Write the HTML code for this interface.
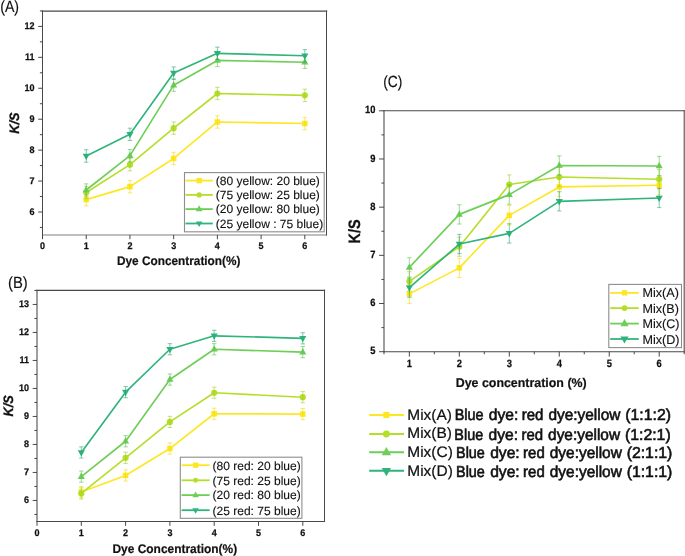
<!DOCTYPE html>
<html lang="en">
<head>
<meta charset="utf-8">
<title>K/S versus dye concentration</title>
<style>
html,body{margin:0;padding:0;background:#fff;}
body{width:685px;height:556px;overflow:hidden;}
svg{display:block;will-change:transform;}
svg text{text-rendering:geometricPrecision;}
</style>
</head>
<body>
<svg width="685" height="556" viewBox="0 0 685 556" font-family='"Liberation Sans", Arial, sans-serif'>
<rect width="685" height="556" fill="#fff"/>
<path d="M42.5 234.9H326.5" stroke="#808080" stroke-width="1.05" fill="none" stroke-linecap="square"/>
<path d="M42.5 11.1H326.5" stroke="#484848" stroke-width="1.45" fill="none" stroke-linecap="square"/>
<path d="M42.5 11.1V234.9" stroke="#484848" stroke-width="1.05" fill="none" stroke-linecap="square"/>
<path d="M326.5 11.1V234.9" stroke="#484848" stroke-width="1.05" fill="none" stroke-linecap="square"/>
<path d="M42.5 211.98h-4.3M42.5 181.05h-4.3M42.5 150.12h-4.3M42.5 119.19h-4.3M42.5 88.26h-4.3M42.5 57.33h-4.3M42.5 26.4h-4.3M42.5 227.44h-2.6M42.5 196.52h-2.6M42.5 165.59h-2.6M42.5 134.66h-2.6M42.5 103.72h-2.6M42.5 72.79h-2.6M42.5 41.86h-2.6M42.5 10.93h-2.6M42.5 234.9v4.3M86.22 234.9v4.3M129.94 234.9v4.3M173.66 234.9v4.3M217.38 234.9v4.3M261.1 234.9v4.3M304.82 234.9v4.3" stroke="#484848" stroke-width="1" fill="none"/>
<text transform="translate(34.6 214.74) scale(0.94 1)" font-size="9.6" fill="#111" text-anchor="end" font-weight="bold" stroke="#111" stroke-width="0.25">6</text>
<text transform="translate(34.6 183.81) scale(0.94 1)" font-size="9.6" fill="#111" text-anchor="end" font-weight="bold" stroke="#111" stroke-width="0.25">7</text>
<text transform="translate(34.6 152.88) scale(0.94 1)" font-size="9.6" fill="#111" text-anchor="end" font-weight="bold" stroke="#111" stroke-width="0.25">8</text>
<text transform="translate(34.6 121.95) scale(0.94 1)" font-size="9.6" fill="#111" text-anchor="end" font-weight="bold" stroke="#111" stroke-width="0.25">9</text>
<text transform="translate(34.6 91.02) scale(0.94 1)" font-size="9.6" fill="#111" text-anchor="end" font-weight="bold" stroke="#111" stroke-width="0.25">10</text>
<text transform="translate(34.6 60.09) scale(0.94 1)" font-size="9.6" fill="#111" text-anchor="end" font-weight="bold" stroke="#111" stroke-width="0.25">11</text>
<text transform="translate(34.6 29.16) scale(0.94 1)" font-size="9.6" fill="#111" text-anchor="end" font-weight="bold" stroke="#111" stroke-width="0.25">12</text>
<text transform="translate(42.5 249.46) scale(0.94 1)" font-size="9.6" fill="#111" text-anchor="middle" font-weight="bold" stroke="#111" stroke-width="0.25">0</text>
<text transform="translate(86.22 249.46) scale(0.94 1)" font-size="9.6" fill="#111" text-anchor="middle" font-weight="bold" stroke="#111" stroke-width="0.25">1</text>
<text transform="translate(129.94 249.46) scale(0.94 1)" font-size="9.6" fill="#111" text-anchor="middle" font-weight="bold" stroke="#111" stroke-width="0.25">2</text>
<text transform="translate(173.66 249.46) scale(0.94 1)" font-size="9.6" fill="#111" text-anchor="middle" font-weight="bold" stroke="#111" stroke-width="0.25">3</text>
<text transform="translate(217.38 249.46) scale(0.94 1)" font-size="9.6" fill="#111" text-anchor="middle" font-weight="bold" stroke="#111" stroke-width="0.25">4</text>
<text transform="translate(261.1 249.46) scale(0.94 1)" font-size="9.6" fill="#111" text-anchor="middle" font-weight="bold" stroke="#111" stroke-width="0.25">5</text>
<text transform="translate(304.82 249.46) scale(0.94 1)" font-size="9.6" fill="#111" text-anchor="middle" font-weight="bold" stroke="#111" stroke-width="0.25">6</text>
<text transform="translate(178.7 265.1) scale(0.945 1)" font-size="12.5" fill="#111" text-anchor="middle" font-weight="bold" stroke="#111" stroke-width="0.2">Dye Concentration(%)</text>
<text transform="translate(19.3 123.1) rotate(-90) scale(0.94 1)" font-size="13.6" fill="#111" text-anchor="middle" font-weight="bold" font-style="italic" stroke="#111" stroke-width="0.3">K/S</text>
<text transform="translate(0.2 12.3) scale(0.87 1)" font-size="16.3" fill="#111" stroke="#111" stroke-width="0.15">(A)</text>
<polyline points="86.22,199.61 129.94,186.62 173.66,158.47 217.38,121.97 304.82,123.52" fill="none" stroke="#FDE725" stroke-width="1.65" stroke-linejoin="round"/>
<rect x="83.47" y="196.86" width="5.5" height="5.5" fill="#FDE725"/>
<rect x="127.19" y="183.87" width="5.5" height="5.5" fill="#FDE725"/>
<rect x="170.91" y="155.72" width="5.5" height="5.5" fill="#FDE725"/>
<rect x="214.63" y="119.22" width="5.5" height="5.5" fill="#FDE725"/>
<rect x="302.07" y="120.77" width="5.5" height="5.5" fill="#FDE725"/>
<path d="M86.22 193.42V205.79M84.02 193.42h4.4M84.02 205.79h4.4M129.94 180.43V192.8M127.74 180.43h4.4M127.74 192.8h4.4M173.66 152.29V164.66M171.46 152.29h4.4M171.46 164.66h4.4M217.38 115.79V128.16M215.18 115.79h4.4M215.18 128.16h4.4M304.82 117.33V129.71M302.62 117.33h4.4M302.62 129.71h4.4" stroke="#F5D800" stroke-width="0.8" stroke-opacity="0.72" fill="none"/>
<polyline points="86.22,192.49 129.94,164.66 173.66,128.16 217.38,93.52 304.82,95.37" fill="none" stroke="#B5DE2B" stroke-width="1.65" stroke-linejoin="round"/>
<circle cx="86.22" cy="192.49" r="3.1" fill="#B5DE2B"/>
<circle cx="129.94" cy="164.66" r="3.1" fill="#B5DE2B"/>
<circle cx="173.66" cy="128.16" r="3.1" fill="#B5DE2B"/>
<circle cx="217.38" cy="93.52" r="3.1" fill="#B5DE2B"/>
<circle cx="304.82" cy="95.37" r="3.1" fill="#B5DE2B"/>
<path d="M86.22 186.31V198.68M84.02 186.31h4.4M84.02 198.68h4.4M129.94 158.47V170.84M127.74 158.47h4.4M127.74 170.84h4.4M173.66 121.97V134.35M171.46 121.97h4.4M171.46 134.35h4.4M217.38 87.33V99.7M215.18 87.33h4.4M215.18 99.7h4.4M304.82 89.19V101.56M302.62 89.19h4.4M302.62 101.56h4.4" stroke="#9FCC1E" stroke-width="0.8" stroke-opacity="0.72" fill="none"/>
<polyline points="86.22,190.02 129.94,155.69 173.66,85.17 217.38,60.42 304.82,62.28" fill="none" stroke="#6ECE58" stroke-width="1.65" stroke-linejoin="round"/>
<polygon points="82.62,192.32 89.82,192.32 86.22,186.02" fill="#6ECE58"/>
<polygon points="126.34,157.99 133.54,157.99 129.94,151.69" fill="#6ECE58"/>
<polygon points="170.06,87.47 177.26,87.47 173.66,81.17" fill="#6ECE58"/>
<polygon points="213.78,62.72 220.98,62.72 217.38,56.42" fill="#6ECE58"/>
<polygon points="301.22,64.58 308.42,64.58 304.82,58.28" fill="#6ECE58"/>
<path d="M86.22 183.83V196.21M84.02 183.83h4.4M84.02 196.21h4.4M129.94 149.5V161.87M127.74 149.5h4.4M127.74 161.87h4.4M173.66 78.98V91.35M171.46 78.98h4.4M171.46 91.35h4.4M217.38 54.24V66.61M215.18 54.24h4.4M215.18 66.61h4.4M304.82 56.09V68.46M302.62 56.09h4.4M302.62 68.46h4.4" stroke="#55BF45" stroke-width="0.8" stroke-opacity="0.72" fill="none"/>
<polyline points="86.22,156 129.94,134.35 173.66,73.1 217.38,53.31 304.82,55.78" fill="none" stroke="#2FB47C" stroke-width="1.65" stroke-linejoin="round"/>
<polygon points="82.62,153.7 89.82,153.7 86.22,160" fill="#2FB47C"/>
<polygon points="126.34,132.05 133.54,132.05 129.94,138.35" fill="#2FB47C"/>
<polygon points="170.06,70.8 177.26,70.8 173.66,77.1" fill="#2FB47C"/>
<polygon points="213.78,51.01 220.98,51.01 217.38,57.31" fill="#2FB47C"/>
<polygon points="301.22,53.48 308.42,53.48 304.82,59.78" fill="#2FB47C"/>
<path d="M86.22 149.81V162.18M84.02 149.81h4.4M84.02 162.18h4.4M129.94 128.16V140.53M127.74 128.16h4.4M127.74 140.53h4.4M173.66 66.92V79.29M171.46 66.92h4.4M171.46 79.29h4.4M217.38 47.12V59.5M215.18 47.12h4.4M215.18 59.5h4.4M304.82 49.6V61.97M302.62 49.6h4.4M302.62 61.97h4.4" stroke="#22A56E" stroke-width="0.8" stroke-opacity="0.72" fill="none"/>
<rect x="184.5" y="172.6" width="139.7" height="59.2" fill="#fff" stroke="#8e8e8e" stroke-width="1.1"/>
<path d="M185.5 180.6H212.8" stroke="#FDE725" stroke-width="1.8"/>
<rect x="196.46" y="177.91" width="5.39" height="5.39" fill="#FDE725"/>
<text transform="translate(215.8 184.92)" font-size="12" fill="#111" stroke="#111" stroke-width="0.12">(80 yellow: 20 blue)</text>
<path d="M185.5 194.9H212.8" stroke="#B5DE2B" stroke-width="1.8"/>
<circle cx="199.15" cy="194.9" r="2.63" fill="#B5DE2B"/>
<text transform="translate(215.8 199.22)" font-size="12" fill="#111" stroke="#111" stroke-width="0.12">(75 yellow: 25 blue)</text>
<path d="M185.5 209.1H212.8" stroke="#6ECE58" stroke-width="1.8"/>
<polygon points="195.69,211.31 202.61,211.31 199.15,205.26" fill="#6ECE58"/>
<text transform="translate(215.8 213.42)" font-size="12" fill="#111" stroke="#111" stroke-width="0.12">(20 yellow: 80 blue)</text>
<path d="M185.5 223.5H212.8" stroke="#2FB47C" stroke-width="1.8"/>
<polygon points="195.91,221.43 202.39,221.43 199.15,227.1" fill="#2FB47C"/>
<text transform="translate(215.8 227.82)" font-size="12" fill="#111" stroke="#111" stroke-width="0.12">(25 yellow : 75 blue)</text>
<path d="M37 521.5H324.5" stroke="#484848" stroke-width="1.05" fill="none" stroke-linecap="square"/>
<path d="M37 290.3H324.5" stroke="#484848" stroke-width="1.35" fill="none" stroke-linecap="square"/>
<path d="M37 290.3V521.5" stroke="#484848" stroke-width="1.05" fill="none" stroke-linecap="square"/>
<path d="M324.5 290.3V521.5" stroke="#484848" stroke-width="1.05" fill="none" stroke-linecap="square"/>
<path d="M37 500.45h-4.3M37 472.45h-4.3M37 444.45h-4.3M37 416.45h-4.3M37 388.45h-4.3M37 360.45h-4.3M37 332.45h-4.3M37 304.45h-4.3M37 514.45h-2.6M37 486.45h-2.6M37 458.45h-2.6M37 430.45h-2.6M37 402.45h-2.6M37 374.45h-2.6M37 346.45h-2.6M37 318.45h-2.6M37 290.45h-2.6M37 521.5v4.3M81.3 521.5v4.3M125.6 521.5v4.3M169.9 521.5v4.3M214.2 521.5v4.3M258.5 521.5v4.3M302.8 521.5v4.3" stroke="#484848" stroke-width="1" fill="none"/>
<text transform="translate(29.1 503.21) scale(0.94 1)" font-size="9.6" fill="#111" text-anchor="end" font-weight="bold" stroke="#111" stroke-width="0.25">6</text>
<text transform="translate(29.1 475.21) scale(0.94 1)" font-size="9.6" fill="#111" text-anchor="end" font-weight="bold" stroke="#111" stroke-width="0.25">7</text>
<text transform="translate(29.1 447.21) scale(0.94 1)" font-size="9.6" fill="#111" text-anchor="end" font-weight="bold" stroke="#111" stroke-width="0.25">8</text>
<text transform="translate(29.1 419.21) scale(0.94 1)" font-size="9.6" fill="#111" text-anchor="end" font-weight="bold" stroke="#111" stroke-width="0.25">9</text>
<text transform="translate(29.1 391.21) scale(0.94 1)" font-size="9.6" fill="#111" text-anchor="end" font-weight="bold" stroke="#111" stroke-width="0.25">10</text>
<text transform="translate(29.1 363.21) scale(0.94 1)" font-size="9.6" fill="#111" text-anchor="end" font-weight="bold" stroke="#111" stroke-width="0.25">11</text>
<text transform="translate(29.1 335.21) scale(0.94 1)" font-size="9.6" fill="#111" text-anchor="end" font-weight="bold" stroke="#111" stroke-width="0.25">12</text>
<text transform="translate(29.1 307.21) scale(0.94 1)" font-size="9.6" fill="#111" text-anchor="end" font-weight="bold" stroke="#111" stroke-width="0.25">13</text>
<text transform="translate(37 536.16) scale(0.94 1)" font-size="9.6" fill="#111" text-anchor="middle" font-weight="bold" stroke="#111" stroke-width="0.25">0</text>
<text transform="translate(81.3 536.16) scale(0.94 1)" font-size="9.6" fill="#111" text-anchor="middle" font-weight="bold" stroke="#111" stroke-width="0.25">1</text>
<text transform="translate(125.6 536.16) scale(0.94 1)" font-size="9.6" fill="#111" text-anchor="middle" font-weight="bold" stroke="#111" stroke-width="0.25">2</text>
<text transform="translate(169.9 536.16) scale(0.94 1)" font-size="9.6" fill="#111" text-anchor="middle" font-weight="bold" stroke="#111" stroke-width="0.25">3</text>
<text transform="translate(214.2 536.16) scale(0.94 1)" font-size="9.6" fill="#111" text-anchor="middle" font-weight="bold" stroke="#111" stroke-width="0.25">4</text>
<text transform="translate(258.5 536.16) scale(0.94 1)" font-size="9.6" fill="#111" text-anchor="middle" font-weight="bold" stroke="#111" stroke-width="0.25">5</text>
<text transform="translate(302.8 536.16) scale(0.94 1)" font-size="9.6" fill="#111" text-anchor="middle" font-weight="bold" stroke="#111" stroke-width="0.25">6</text>
<text transform="translate(174.8 553) scale(0.955 1)" font-size="12.5" fill="#111" text-anchor="middle" font-weight="bold" stroke="#111" stroke-width="0.2">Dye Concentration(%)</text>
<text transform="translate(12.6 405.9) rotate(-90) scale(0.94 1)" font-size="13.6" fill="#111" text-anchor="middle" font-weight="bold" font-style="italic" stroke="#111" stroke-width="0.3">K/S</text>
<text transform="translate(8 288.2) scale(0.91 1)" font-size="16.3" fill="#111" stroke="#111" stroke-width="0.15">(B)</text>
<polyline points="81.3,492.02 125.6,475.47 169.9,448.57 214.2,413.76 302.8,414.07" fill="none" stroke="#FDE725" stroke-width="1.65" stroke-linejoin="round"/>
<rect x="78.55" y="489.27" width="5.5" height="5.5" fill="#FDE725"/>
<rect x="122.85" y="472.72" width="5.5" height="5.5" fill="#FDE725"/>
<rect x="167.15" y="445.82" width="5.5" height="5.5" fill="#FDE725"/>
<rect x="211.45" y="411.01" width="5.5" height="5.5" fill="#FDE725"/>
<rect x="300.05" y="411.32" width="5.5" height="5.5" fill="#FDE725"/>
<path d="M81.3 486.42V497.62M79.1 486.42h4.4M79.1 497.62h4.4M125.6 469.87V481.07M123.4 469.87h4.4M123.4 481.07h4.4M169.9 442.97V454.17M167.7 442.97h4.4M167.7 454.17h4.4M214.2 408.16V419.36M212 408.16h4.4M212 419.36h4.4M302.8 408.47V419.67M300.6 408.47h4.4M300.6 419.67h4.4" stroke="#F5D800" stroke-width="0.8" stroke-opacity="0.72" fill="none"/>
<polyline points="81.3,493.45 125.6,457.81 169.9,421.91 214.2,392.73 302.8,397.21" fill="none" stroke="#B5DE2B" stroke-width="1.65" stroke-linejoin="round"/>
<circle cx="81.3" cy="493.45" r="3.1" fill="#B5DE2B"/>
<circle cx="125.6" cy="457.81" r="3.1" fill="#B5DE2B"/>
<circle cx="169.9" cy="421.91" r="3.1" fill="#B5DE2B"/>
<circle cx="214.2" cy="392.73" r="3.1" fill="#B5DE2B"/>
<circle cx="302.8" cy="397.21" r="3.1" fill="#B5DE2B"/>
<path d="M81.3 487.85V499.05M79.1 487.85h4.4M79.1 499.05h4.4M125.6 452.21V463.41M123.4 452.21h4.4M123.4 463.41h4.4M169.9 416.31V427.51M167.7 416.31h4.4M167.7 427.51h4.4M214.2 387.13V398.33M212 387.13h4.4M212 398.33h4.4M302.8 391.61V402.81M300.6 391.61h4.4M300.6 402.81h4.4" stroke="#9FCC1E" stroke-width="0.8" stroke-opacity="0.72" fill="none"/>
<polyline points="81.3,476.59 125.6,441.26 169.9,379.55 214.2,349.25 302.8,352.08" fill="none" stroke="#6ECE58" stroke-width="1.65" stroke-linejoin="round"/>
<polygon points="77.7,478.89 84.9,478.89 81.3,472.59" fill="#6ECE58"/>
<polygon points="122,443.56 129.2,443.56 125.6,437.26" fill="#6ECE58"/>
<polygon points="166.3,381.85 173.5,381.85 169.9,375.55" fill="#6ECE58"/>
<polygon points="210.6,351.55 217.8,351.55 214.2,345.25" fill="#6ECE58"/>
<polygon points="299.2,354.38 306.4,354.38 302.8,348.08" fill="#6ECE58"/>
<path d="M81.3 470.99V482.19M79.1 470.99h4.4M79.1 482.19h4.4M125.6 435.66V446.86M123.4 435.66h4.4M123.4 446.86h4.4M169.9 373.95V385.15M167.7 373.95h4.4M167.7 385.15h4.4M214.2 343.65V354.85M212 343.65h4.4M212 354.85h4.4M302.8 346.48V357.68M300.6 346.48h4.4M300.6 357.68h4.4" stroke="#55BF45" stroke-width="0.8" stroke-opacity="0.72" fill="none"/>
<polyline points="81.3,452.49 125.6,392.17 169.9,349.25 214.2,335.81 302.8,338.33" fill="none" stroke="#2FB47C" stroke-width="1.65" stroke-linejoin="round"/>
<polygon points="77.7,450.19 84.9,450.19 81.3,456.49" fill="#2FB47C"/>
<polygon points="122,389.87 129.2,389.87 125.6,396.17" fill="#2FB47C"/>
<polygon points="166.3,346.95 173.5,346.95 169.9,353.25" fill="#2FB47C"/>
<polygon points="210.6,333.51 217.8,333.51 214.2,339.81" fill="#2FB47C"/>
<polygon points="299.2,336.03 306.4,336.03 302.8,342.33" fill="#2FB47C"/>
<path d="M81.3 446.89V458.09M79.1 446.89h4.4M79.1 458.09h4.4M125.6 386.57V397.77M123.4 386.57h4.4M123.4 397.77h4.4M169.9 343.65V354.85M167.7 343.65h4.4M167.7 354.85h4.4M214.2 330.21V341.41M212 330.21h4.4M212 341.41h4.4M302.8 332.73V343.93M300.6 332.73h4.4M300.6 343.93h4.4" stroke="#22A56E" stroke-width="0.8" stroke-opacity="0.72" fill="none"/>
<rect x="180.3" y="457.2" width="121.6" height="61.1" fill="#fff" stroke="#8e8e8e" stroke-width="1.1"/>
<path d="M181.6 465.2H209.6" stroke="#FDE725" stroke-width="1.8"/>
<rect x="192.96" y="462.56" width="5.28" height="5.28" fill="#FDE725"/>
<text transform="translate(212.6 469.52)" font-size="12" fill="#111" stroke="#111" stroke-width="0.12">(80 red: 20 blue)</text>
<path d="M181.6 480.3H209.6" stroke="#B5DE2B" stroke-width="1.8"/>
<circle cx="195.6" cy="480.3" r="2.48" fill="#B5DE2B"/>
<text transform="translate(212.6 484.62)" font-size="12" fill="#111" stroke="#111" stroke-width="0.12">(75 red: 25 blue)</text>
<path d="M181.6 495.1H209.6" stroke="#6ECE58" stroke-width="1.8"/>
<polygon points="192.36,497.17 198.84,497.17 195.6,491.5" fill="#6ECE58"/>
<text transform="translate(212.6 499.42)" font-size="12" fill="#111" stroke="#111" stroke-width="0.12">(20 red: 80 blue)</text>
<path d="M181.6 510.2H209.6" stroke="#2FB47C" stroke-width="1.8"/>
<polygon points="192.36,508.13 198.84,508.13 195.6,513.8" fill="#2FB47C"/>
<text transform="translate(212.6 514.52)" font-size="12" fill="#111" stroke="#111" stroke-width="0.12">(25 red: 75 blue)</text>
<path d="M384 351.7H684.2" stroke="#484848" stroke-width="1.05" fill="none" stroke-linecap="square"/>
<path d="M384 110.8H684.2" stroke="#484848" stroke-width="1.05" fill="none" stroke-linecap="square"/>
<path d="M384 110.8V351.7" stroke="#484848" stroke-width="1.05" fill="none" stroke-linecap="square"/>
<path d="M684.2 110.8V351.7" stroke="#484848" stroke-width="1.05" fill="none" stroke-linecap="square"/>
<path d="M384 351.7h-4.9M384 303.52h-4.9M384 255.34h-4.9M384 207.16h-4.9M384 158.98h-4.9M384 110.8h-4.9M384 327.61h-2.6M384 279.43h-2.6M384 231.25h-2.6M384 183.07h-2.6M384 134.89h-2.6M409.35 351.7v4.9M459.32 351.7v4.9M509.29 351.7v4.9M559.26 351.7v4.9M609.23 351.7v4.9M659.2 351.7v4.9M384 351.7v2.6M434.34 351.7v2.6M484.31 351.7v2.6M534.27 351.7v2.6M584.25 351.7v2.6M634.22 351.7v2.6M684.2 351.7v2.6" stroke="#484848" stroke-width="1" fill="none"/>
<text transform="translate(375.5 354.38) scale(0.89 1)" font-size="10.5" fill="#111" text-anchor="end" font-weight="bold" stroke="#111" stroke-width="0.25">5</text>
<text transform="translate(375.5 306.2) scale(0.89 1)" font-size="10.5" fill="#111" text-anchor="end" font-weight="bold" stroke="#111" stroke-width="0.25">6</text>
<text transform="translate(375.5 258.02) scale(0.89 1)" font-size="10.5" fill="#111" text-anchor="end" font-weight="bold" stroke="#111" stroke-width="0.25">7</text>
<text transform="translate(375.5 209.84) scale(0.89 1)" font-size="10.5" fill="#111" text-anchor="end" font-weight="bold" stroke="#111" stroke-width="0.25">8</text>
<text transform="translate(375.5 161.66) scale(0.89 1)" font-size="10.5" fill="#111" text-anchor="end" font-weight="bold" stroke="#111" stroke-width="0.25">9</text>
<text transform="translate(375.5 113.48) scale(0.89 1)" font-size="10.5" fill="#111" text-anchor="end" font-weight="bold" stroke="#111" stroke-width="0.25">10</text>
<text transform="translate(409.35 367.38) scale(0.89 1)" font-size="10.5" fill="#111" text-anchor="middle" font-weight="bold" stroke="#111" stroke-width="0.25">1</text>
<text transform="translate(459.32 367.38) scale(0.89 1)" font-size="10.5" fill="#111" text-anchor="middle" font-weight="bold" stroke="#111" stroke-width="0.25">2</text>
<text transform="translate(509.29 367.38) scale(0.89 1)" font-size="10.5" fill="#111" text-anchor="middle" font-weight="bold" stroke="#111" stroke-width="0.25">3</text>
<text transform="translate(559.26 367.38) scale(0.89 1)" font-size="10.5" fill="#111" text-anchor="middle" font-weight="bold" stroke="#111" stroke-width="0.25">4</text>
<text transform="translate(609.23 367.38) scale(0.89 1)" font-size="10.5" fill="#111" text-anchor="middle" font-weight="bold" stroke="#111" stroke-width="0.25">5</text>
<text transform="translate(659.2 367.38) scale(0.89 1)" font-size="10.5" fill="#111" text-anchor="middle" font-weight="bold" stroke="#111" stroke-width="0.25">6</text>
<text transform="translate(521.2 386.6) scale(0.985 1)" font-size="12.6" fill="#111" text-anchor="middle" font-weight="bold" stroke="#111" stroke-width="0.2">Dye concentration (%)</text>
<text transform="translate(359.6 231.5) rotate(-90) scale(0.885 1)" font-size="16.4" fill="#111" text-anchor="middle" font-weight="bold" stroke="#111" stroke-width="0.3">K/S</text>
<text transform="translate(383.2 86.5) scale(0.85 1)" font-size="16.3" fill="#111" stroke="#111" stroke-width="0.15">(C)</text>
<polyline points="409.35,293.88 459.32,267.87 509.29,215.35 559.26,186.92 659.2,185.24" fill="none" stroke="#FDE725" stroke-width="1.65" stroke-linejoin="round"/>
<rect x="406.6" y="291.13" width="5.5" height="5.5" fill="#FDE725"/>
<rect x="456.57" y="265.12" width="5.5" height="5.5" fill="#FDE725"/>
<rect x="506.54" y="212.6" width="5.5" height="5.5" fill="#FDE725"/>
<rect x="556.51" y="184.17" width="5.5" height="5.5" fill="#FDE725"/>
<rect x="656.45" y="182.49" width="5.5" height="5.5" fill="#FDE725"/>
<path d="M409.35 284.25V303.52M407.15 284.25h4.4M407.15 303.52h4.4M459.32 258.23V277.5M457.12 258.23h4.4M457.12 277.5h4.4M509.29 205.71V224.99M507.09 205.71h4.4M507.09 224.99h4.4M559.26 177.29V196.56M557.06 177.29h4.4M557.06 196.56h4.4M659.2 175.6V194.87M657 175.6h4.4M657 194.87h4.4" stroke="#F5D800" stroke-width="0.8" stroke-opacity="0.72" fill="none"/>
<polyline points="409.35,281.36 459.32,246.67 509.29,184.52 559.26,177.05 659.2,179.22" fill="none" stroke="#B5DE2B" stroke-width="1.65" stroke-linejoin="round"/>
<circle cx="409.35" cy="281.36" r="3.1" fill="#B5DE2B"/>
<circle cx="459.32" cy="246.67" r="3.1" fill="#B5DE2B"/>
<circle cx="509.29" cy="184.52" r="3.1" fill="#B5DE2B"/>
<circle cx="559.26" cy="177.05" r="3.1" fill="#B5DE2B"/>
<circle cx="659.2" cy="179.22" r="3.1" fill="#B5DE2B"/>
<path d="M409.35 271.72V290.99M407.15 271.72h4.4M407.15 290.99h4.4M459.32 237.03V256.3M457.12 237.03h4.4M457.12 256.3h4.4M509.29 174.88V194.15M507.09 174.88h4.4M507.09 194.15h4.4M559.26 167.41V186.68M557.06 167.41h4.4M557.06 186.68h4.4M659.2 169.58V188.85M657 169.58h4.4M657 188.85h4.4" stroke="#9FCC1E" stroke-width="0.8" stroke-opacity="0.72" fill="none"/>
<polyline points="409.35,267.38 459.32,214.39 509.29,194.63 559.26,165.48 659.2,165.97" fill="none" stroke="#6ECE58" stroke-width="1.65" stroke-linejoin="round"/>
<polygon points="405.75,269.69 412.95,269.69 409.35,263.38" fill="#6ECE58"/>
<polygon points="455.72,216.69 462.92,216.69 459.32,210.39" fill="#6ECE58"/>
<polygon points="505.69,196.93 512.89,196.93 509.29,190.63" fill="#6ECE58"/>
<polygon points="555.66,167.78 562.86,167.78 559.26,161.48" fill="#6ECE58"/>
<polygon points="655.6,168.27 662.8,168.27 659.2,161.97" fill="#6ECE58"/>
<path d="M409.35 257.75V277.02M407.15 257.75h4.4M407.15 277.02h4.4M459.32 204.75V224.02M457.12 204.75h4.4M457.12 224.02h4.4M509.29 185V204.27M507.09 185h4.4M507.09 204.27h4.4M559.26 155.85V175.12M557.06 155.85h4.4M557.06 175.12h4.4M659.2 156.33V175.6M657 156.33h4.4M657 175.6h4.4" stroke="#55BF45" stroke-width="0.8" stroke-opacity="0.72" fill="none"/>
<polyline points="409.35,287.62 459.32,244.02 509.29,233.42 559.26,201.38 659.2,198.01" fill="none" stroke="#2FB47C" stroke-width="1.65" stroke-linejoin="round"/>
<polygon points="405.75,285.32 412.95,285.32 409.35,291.62" fill="#2FB47C"/>
<polygon points="455.72,241.72 462.92,241.72 459.32,248.02" fill="#2FB47C"/>
<polygon points="505.69,231.12 512.89,231.12 509.29,237.42" fill="#2FB47C"/>
<polygon points="555.66,199.08 562.86,199.08 559.26,205.38" fill="#2FB47C"/>
<polygon points="655.6,195.71 662.8,195.71 659.2,202.01" fill="#2FB47C"/>
<path d="M409.35 277.98V297.26M407.15 277.98h4.4M407.15 297.26h4.4M459.32 234.38V253.65M457.12 234.38h4.4M457.12 253.65h4.4M509.29 223.78V243.05M507.09 223.78h4.4M507.09 243.05h4.4M559.26 191.74V211.01M557.06 191.74h4.4M557.06 211.01h4.4M659.2 188.37V207.64M657 188.37h4.4M657 207.64h4.4" stroke="#22A56E" stroke-width="0.8" stroke-opacity="0.72" fill="none"/>
<rect x="608.8" y="284.4" width="72.7" height="63.2" fill="#fff" stroke="#8e8e8e" stroke-width="1.1"/>
<path d="M610.2 292.9H638.8" stroke="#FDE725" stroke-width="1.8"/>
<rect x="621.8" y="290.2" width="5.39" height="5.39" fill="#FDE725"/>
<text transform="translate(642.5 297.44)" font-size="12.6" fill="#111" stroke="#111" stroke-width="0.12">Mix(A)</text>
<path d="M610.2 308.1H638.8" stroke="#B5DE2B" stroke-width="1.8"/>
<circle cx="624.5" cy="308.1" r="2.94" fill="#B5DE2B"/>
<text transform="translate(642.5 312.64)" font-size="12.6" fill="#111" stroke="#111" stroke-width="0.12">Mix(B)</text>
<path d="M610.2 323.6H638.8" stroke="#6ECE58" stroke-width="1.8"/>
<polygon points="620.4,326.22 628.6,326.22 624.5,319.04" fill="#6ECE58"/>
<text transform="translate(642.5 328.14)" font-size="12.6" fill="#111" stroke="#111" stroke-width="0.12">Mix(C)</text>
<path d="M610.2 339H638.8" stroke="#2FB47C" stroke-width="1.8"/>
<polygon points="620.4,336.38 628.6,336.38 624.5,343.56" fill="#2FB47C"/>
<text transform="translate(642.5 343.54)" font-size="12.6" fill="#111" stroke="#111" stroke-width="0.12">Mix(D)</text>
<path d="M369.2 415H404" stroke="#FDE725" stroke-width="1.95"/>
<rect x="383.32" y="411.92" width="6.16" height="6.16" fill="#FDE725"/>
<text transform="translate(407.26 419.6) scale(1.019 1)" font-size="15.2" fill="#111" stroke="#111" stroke-width="0.2">Mix(A)</text>
<text transform="translate(454.65 420.4) scale(0.912 1)" font-size="15.8" fill="#111" stroke="#111" stroke-width="0.6">Blue</text>
<text transform="translate(488.77 420.4) scale(0.989 1)" font-size="15.8" fill="#111" stroke="#111" stroke-width="0.6">dye:</text>
<text transform="translate(521.73 420.4) scale(0.949 1)" font-size="15.8" fill="#111" stroke="#111" stroke-width="0.6">red</text>
<text transform="translate(548.38 420.4) scale(0.976 1)" font-size="15.8" fill="#111" stroke="#111" stroke-width="0.6">dye:yellow</text>
<text transform="translate(625.25 420.4) scale(1.001 1)" font-size="15.8" fill="#111" stroke="#111" stroke-width="0.6">(1:1:2)</text>
<path d="M369.2 434H404" stroke="#B5DE2B" stroke-width="1.95"/>
<circle cx="386.4" cy="434" r="3.47" fill="#B5DE2B"/>
<text transform="translate(407.26 438.2) scale(1.019 1)" font-size="15.2" fill="#111" stroke="#111" stroke-width="0.2">Mix(B)</text>
<text transform="translate(454.35 440.4) scale(0.912 1)" font-size="15.8" fill="#111" stroke="#111" stroke-width="0.6">Blue</text>
<text transform="translate(488.47 440.4) scale(0.989 1)" font-size="15.8" fill="#111" stroke="#111" stroke-width="0.6">dye:</text>
<text transform="translate(521.43 440.4) scale(0.949 1)" font-size="15.8" fill="#111" stroke="#111" stroke-width="0.6">red</text>
<text transform="translate(548.08 440.4) scale(0.976 1)" font-size="15.8" fill="#111" stroke="#111" stroke-width="0.6">dye:yellow</text>
<text transform="translate(624.95 440.4) scale(1.001 1)" font-size="15.8" fill="#111" stroke="#111" stroke-width="0.6">(1:2:1)</text>
<path d="M369.2 452.3H404" stroke="#6ECE58" stroke-width="1.95"/>
<polygon points="381.72,455.29 391.08,455.29 386.4,447.1" fill="#6ECE58"/>
<text transform="translate(407.26 457.3) scale(1.019 1)" font-size="15.2" fill="#111" stroke="#111" stroke-width="0.2">Mix(C)</text>
<text transform="translate(456.05 458) scale(0.912 1)" font-size="15.8" fill="#111" stroke="#111" stroke-width="0.6">Blue</text>
<text transform="translate(490.17 458) scale(0.989 1)" font-size="15.8" fill="#111" stroke="#111" stroke-width="0.6">dye:</text>
<text transform="translate(523.12 458) scale(0.949 1)" font-size="15.8" fill="#111" stroke="#111" stroke-width="0.6">red</text>
<text transform="translate(549.78 458) scale(0.976 1)" font-size="15.8" fill="#111" stroke="#111" stroke-width="0.6">dye:yellow</text>
<text transform="translate(626.65 458) scale(1.001 1)" font-size="15.8" fill="#111" stroke="#111" stroke-width="0.6">(2:1:1)</text>
<path d="M369.2 470.8H404" stroke="#2FB47C" stroke-width="1.95"/>
<polygon points="381.72,468.11 391.08,468.11 386.4,476.3" fill="#2FB47C"/>
<text transform="translate(407.26 475.9) scale(1.019 1)" font-size="15.2" fill="#111" stroke="#111" stroke-width="0.2">Mix(D)</text>
<text transform="translate(456.05 477.3) scale(0.912 1)" font-size="15.8" fill="#111" stroke="#111" stroke-width="0.6">Blue</text>
<text transform="translate(490.17 477.3) scale(0.989 1)" font-size="15.8" fill="#111" stroke="#111" stroke-width="0.6">dye:</text>
<text transform="translate(523.12 477.3) scale(0.949 1)" font-size="15.8" fill="#111" stroke="#111" stroke-width="0.6">red</text>
<text transform="translate(549.78 477.3) scale(0.976 1)" font-size="15.8" fill="#111" stroke="#111" stroke-width="0.6">dye:yellow</text>
<text transform="translate(626.65 477.3) scale(1.001 1)" font-size="15.8" fill="#111" stroke="#111" stroke-width="0.6">(1:1:1)</text>
</svg>
</body>
</html>
